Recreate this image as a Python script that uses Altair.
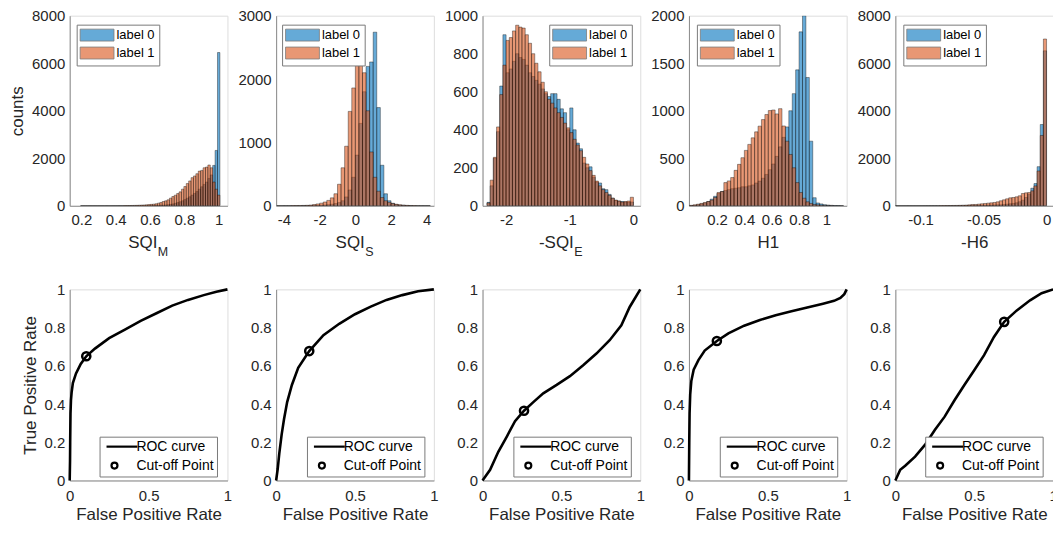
import altair as alt
import pandas as pd

FONT = "Liberation Sans"
TXT = "#262626"
AXC = "#8c8c8c"
BLUE = "#0072BD"
ORANGE = "#D95319"
W = 158.5
H_TOP, H_BOT = 191, 192
MINUS = "\u2212"

# ---------------- histogram data ----------------
# SQI_M : bins of width 0.014, listed from the right-most bin (ending at 1.007) leftwards
p1_width = 0.014
p1_right = 1.007
p1_label0_rtl = [6450, 2330, 1700, 1300, 1150, 1000, 900, 800, 700, 600, 520, 450, 380, 320, 260,
                 210, 170, 135, 105, 80, 60, 45, 35, 28, 22, 17, 13, 10, 8, 6, 5, 4, 3, 3, 2, 2,
                 1, 1, 1, 1, 0, 0, 0, 0, 0, 0, 0, 0, 0, 0, 0, 0, 0, 0, 0, 0, 0, 0]
p1_label1_rtl = [450, 700, 1000, 1600, 1717, 1630, 1600, 1490, 1460, 1350, 1256, 1185, 1047, 935, 810,
                 700, 586, 515, 447, 390, 322, 251, 209, 181, 140, 112, 84, 70, 60, 50, 42, 35, 30,
                 25, 20, 17, 14, 12, 10, 8, 6, 5, 4, 3, 2, 2, 1, 1, 1, 1, 1, 0, 0, 1, 0, 0, 0, 0]

# SQI_S : bins of width 0.2 starting at -4.4
p2_width = 0.2
p2_first = -4.4
p2_label0 = [1, 1, 1, 1, 2, 2, 2, 3, 3, 4, 5, 6, 9, 12, 18, 25, 35, 50, 80, 140, 250, 450, 800,
             1300, 1800, 2200, 2270, 2740, 1550, 640, 190, 80, 40, 20, 12, 8, 5, 3, 2, 2, 1, 1, 1]
p2_label1 = [1, 1, 2, 2, 3, 4, 5, 6, 8, 12, 20, 30, 42, 60, 85, 125, 190, 340, 600, 940, 1490, 1860,
             2450, 2600, 2100, 1500, 850, 450, 230, 130, 80, 55, 35, 25, 15, 10, 7, 5, 3, 2, 2, 1, 1]

# -SQI_E : bins of width 0.05 starting at -2.3
p3_width = 0.05
p3_first = -2.3
p3_label0 = [18, 105, 250, 390, 630, 900, 700, 720, 760, 800, 780, 770, 740, 700, 680, 660, 640,
             615, 590, 575, 590, 590, 560, 510, 490, 400, 515, 400, 330, 300, 225, 200, 205, 150,
             125, 120, 90, 85, 60, 40, 28, 25, 22, 20, 18, 20]
p3_label1 = [15, 135, 255, 415, 585, 740, 870, 885, 920, 950, 940, 935, 900, 855, 800, 750, 705,
             650, 600, 560, 540, 515, 490, 465, 435, 410, 385, 350, 320, 290, 255, 220, 185, 160,
             130, 105, 85, 70, 55, 40, 30, 25, 20, 22, 25, 45]

# H1 : bins of width 0.025 starting at 0
p4_width = 0.025
p4_first = 0.0
p4_label0 = [2, 5, 10, 20, 30, 45, 70, 100, 130, 150, 160, 170, 180, 185, 190, 200, 200, 210, 220,
             240, 260, 290, 330, 380, 440, 520, 620, 720, 830, 1000, 1180, 1430, 1830, 2000, 1350,
             680, 85, 30, 20, 12, 8, 5, 3, 2, 1]
p4_label1 = [5, 10, 17, 25, 35, 45, 60, 87, 140, 150, 244, 262, 297, 373, 436, 506, 583, 646, 715,
             778, 838, 907, 960, 1002, 1008, 967, 1022, 840, 680, 540, 400, 244, 140, 80, 42, 25,
             14, 10, 6, 4, 3, 2, 1, 1, 0]

# -H6 : bins of width 0.0025, listed from the right-most bin (ending at 0) leftwards
p5_width = 0.0025
p5_right = 0.0
p5_label0_rtl = [6520, 3420, 1647, 935, 740, 490, 350, 237, 170, 125, 100, 84, 70, 56, 42, 40, 35,
                 30, 25, 22, 20, 18, 15, 12, 10, 10, 8, 7, 6, 6, 5, 5, 4, 4, 3, 3, 3, 2, 2, 2, 2,
                 1, 1, 1, 1, 1, 1, 1]
p5_label1_rtl = [7020, 2960, 1466, 838, 628, 558, 545, 516, 420, 377, 349, 335, 293, 251, 210, 167,
                 140, 125, 112, 98, 84, 70, 56, 55, 40, 30, 25, 20, 16, 14, 12, 10, 8, 7, 6, 5, 4,
                 4, 3, 3, 2, 2, 2, 1, 1, 1, 1, 1]

# ---------------- ROC data ----------------
roc1_fpr = [0, 0.002, 0.003, 0.005, 0.008, 0.012, 0.02, 0.04, 0.07, 0.105, 0.16, 0.25, 0.35, 0.45,
            0.55, 0.65, 0.75, 0.85, 0.93, 1.0]
roc1_tpr = [0, 0.1, 0.2, 0.35, 0.42, 0.46, 0.51, 0.56, 0.61, 0.65, 0.69, 0.745, 0.79, 0.835, 0.875,
            0.915, 0.945, 0.97, 0.988, 1.0]
roc2_fpr = [0, 0.01, 0.02, 0.035, 0.05, 0.07, 0.1, 0.14, 0.21, 0.3, 0.4, 0.5, 0.6, 0.7, 0.8, 0.9, 1.0]
roc2_tpr = [0, 0.06, 0.14, 0.24, 0.32, 0.41, 0.5, 0.59, 0.677, 0.76, 0.82, 0.87, 0.91, 0.945, 0.97,
            0.99, 1.0]
roc3_fpr = [0, 0.048, 0.1, 0.154, 0.206, 0.263, 0.322, 0.385, 0.47, 0.554, 0.638, 0.722, 0.806,
            0.88, 0.933, 1.0]
roc3_tpr = [0, 0.056, 0.15, 0.23, 0.31, 0.365, 0.41, 0.456, 0.5, 0.546, 0.603, 0.664, 0.734, 0.812,
            0.908, 1.0]
roc4_fpr = [0, 0.002, 0.004, 0.008, 0.015, 0.03, 0.06, 0.1, 0.177, 0.25, 0.35, 0.45, 0.55, 0.65,
            0.75, 0.85, 0.92, 0.96, 0.985, 1.0]
roc4_tpr = [0, 0.2, 0.35, 0.45, 0.52, 0.58, 0.63, 0.68, 0.73, 0.77, 0.81, 0.84, 0.865, 0.885, 0.905,
            0.925, 0.94, 0.955, 0.975, 1.0]
roc5_fpr = [0, 0.031, 0.0625, 0.125, 0.1875, 0.25, 0.3125, 0.375, 0.4375, 0.5, 0.5625, 0.625,
            0.69, 0.77, 0.854, 0.927, 1.0]
roc5_tpr = [0, 0.056, 0.077, 0.125, 0.186, 0.264, 0.334, 0.42, 0.5, 0.577, 0.656, 0.751, 0.83,
            0.89, 0.943, 0.98, 1.0]
cutoffs = [(0.105, 0.65), (0.21, 0.677), (0.263, 0.365), (0.177, 0.73), (0.69, 0.83)]

LABEL_EXPR = "replace(format(datum.value, '~g'), '" + MINUS + "', '-')"


def axis_common(**kw):
    base = dict(grid=False, ticks=False, tickSize=0, domainColor=AXC, domainWidth=1,
                labelFont=FONT, labelFontSize=15, labelColor=TXT, labelFlush=False,
                labelOverlap=False, labelExpr=LABEL_EXPR, titleFont=FONT, titleFontSize=17,
                titleFontWeight="normal", titleColor=TXT)
    base.update(kw)
    return alt.Axis(**base)


def hist_panel(starts, width, c0, c1, xdom, xticks, ydom, yticks, xtitle, sub, ytitle, lx, ly):
    rows = [{"start": s, "end": s + width, "count": v, "label": "label 0"} for s, v in zip(starts, c0)]
    rows += [{"start": s, "end": s + width, "count": v, "label": "label 1"} for s, v in zip(starts, c1)]
    df = pd.DataFrame(rows)
    if sub:
        xaxis = axis_common(values=xticks, title=None, labelPadding=7)
    else:
        xaxis = axis_common(values=xticks, title=xtitle, labelPadding=7, titlePadding=7)
    yaxis = axis_common(values=yticks, title=ytitle, labelPadding=5, titlePadding=5)
    bars = alt.Chart(df).mark_bar(fillOpacity=0.6, stroke="#000000", strokeWidth=0.5,
                                  strokeOpacity=0.75, clip=True).encode(
        x=alt.X("start:Q", scale=alt.Scale(domain=xdom, nice=False, zero=False), axis=xaxis),
        x2="end:Q",
        y=alt.Y("count:Q", scale=alt.Scale(domain=ydom, nice=False), axis=yaxis),
        y2=alt.datum(0),
        color=alt.Color("label:N",
                        scale=alt.Scale(domain=["label 0", "label 1"], range=[BLUE, ORANGE]),
                        legend=alt.Legend(title=None, orient="none", legendX=lx, legendY=ly,
                                          fillColor="white", strokeColor="#7a7a7a", padding=4,
                                          rowPadding=1, symbolType="M-1.17,-1H4.5V1H-1.17Z",
                                          symbolSize=144, symbolStrokeColor="#262626",
                                          symbolStrokeWidth=0.8, symbolOpacity=0.6,
                                          labelOffset=23, labelFont=FONT, labelFontSize=13,
                                          labelColor="#000000")),
    )
    layers = [bars]
    if sub:
        shift = {"M": 8.8, "S": 9.8, "E": 12.4}[sub]
        main = alt.Chart(pd.DataFrame({"t": [xtitle]})).mark_text(
            align="right", baseline="middle", font=FONT, fontSize=17, color=TXT).encode(
            x=alt.value(W / 2 + shift), y=alt.value(H_TOP + 37.5), text="t:N")
        subt = alt.Chart(pd.DataFrame({"t": [sub]})).mark_text(
            align="left", baseline="middle", font=FONT, fontSize=12.5, color=TXT).encode(
            x=alt.value(W / 2 + shift + 0.5), y=alt.value(H_TOP + 46), text="t:N")
        layers += [main, subt]
    return alt.layer(*layers).properties(width=W, height=H_TOP)


def roc_panel(fpr, tpr, cut, ytitle, lx, ly):
    df = pd.DataFrame({"fpr": fpr, "tpr": tpr, "i": list(range(len(fpr)))})
    xaxis = axis_common(values=[0, 0.5, 1], title="False Positive Rate", labelPadding=8, titlePadding=3)
    yaxis = axis_common(values=[0, 0.2, 0.4, 0.6, 0.8, 1], title=ytitle, labelPadding=5, titlePadding=5)
    x = alt.X("fpr:Q", scale=alt.Scale(domain=[0, 1], nice=False), axis=xaxis)
    y = alt.Y("tpr:Q", scale=alt.Scale(domain=[0, 1], nice=False), axis=yaxis)
    line = alt.Chart(df).mark_line(color="black", strokeWidth=2.6).encode(x=x, y=y, order="i:Q")
    cdf = pd.DataFrame({"fpr": [cut[0]], "tpr": [cut[1]]})
    pt = alt.Chart(cdf).mark_point(shape="circle", filled=False, color="black", strokeWidth=2.5,
                                   size=67, opacity=1).encode(x=x, y=y)
    ldf = pd.DataFrame({"item": ["ROC curve", "Cut-off Point"]})
    leg = alt.Chart(ldf).mark_point(filled=False, color="black", opacity=0).encode(
        x=alt.value(0), y=alt.value(0),
        shape=alt.Shape("item:N",
                        scale=alt.Scale(domain=["ROC curve", "Cut-off Point"],
                                        range=["M-2.67,0H7.67", "circle"]),
                        legend=alt.Legend(title=None, orient="none", legendX=lx, legendY=ly,
                                          fillColor="white", strokeColor="#7a7a7a", padding=3,
                                          rowPadding=4, symbolSize=36, symbolStrokeWidth=2.2,
                                          symbolStrokeColor="black", symbolFillColor="transparent",
                                          symbolOpacity=1, symbolOffset=5, labelOffset=15,
                                          labelFont=FONT, labelFontSize=14, labelColor="#000000")),
    )
    return alt.layer(line, pt, leg).properties(width=W, height=H_BOT)


p1_n = len(p1_label0_rtl)
p1_starts = [p1_right - p1_width * (k + 1) for k in range(p1_n)][::-1]
p2_starts = [p2_first + p2_width * i for i in range(len(p2_label0))]
p3_starts = [p3_first + p3_width * i for i in range(len(p3_label0))]
p4_starts = [p4_first + p4_width * i for i in range(len(p4_label0))]
p5_n = len(p5_label0_rtl)
p5_starts = [p5_right - p5_width * (k + 1) for k in range(p5_n)][::-1]

tops = [
    hist_panel(p1_starts, p1_width, p1_label0_rtl[::-1], p1_label1_rtl[::-1], [0.132, 1.051],
               [0.2, 0.4, 0.6, 0.8, 1], [0, 8000], [0, 2000, 4000, 6000, 8000], "SQI", "M",
               "counts", 7, 9),
    hist_panel(p2_starts, p2_width, p2_label0, p2_label1, [-4.44, 4.4], [-4, -2, 0, 2, 4],
               [0, 3000], [0, 1000, 2000, 3000], "SQI", "S", None, 6, 9),
    hist_panel(p3_starts, p3_width, p3_label0, p3_label1, [-2.37, 0.107], [-2, -1, 0],
               [0, 1000], [0, 200, 400, 600, 800, 1000], "-SQI", "E", None, 67, 9),
    hist_panel(p4_starts, p4_width, p4_label0, p4_label1, [-0.005, 1.148], [0.2, 0.4, 0.6, 0.8, 1],
               [0, 2000], [0, 500, 1000, 1500, 2000], "H1", None, None, 8, 9),
    hist_panel(p5_starts, p5_width, p5_label0_rtl[::-1], p5_label1_rtl[::-1], [-0.12, 0.0052],
               [-0.1, -0.05, 0], [0, 8000], [0, 2000, 4000, 6000, 8000], "-H6", None, None, 8, 9),
]
rocs = [
    roc_panel(roc1_fpr, roc1_tpr, cutoffs[0], "True Positive Rate", 30, 148),
    roc_panel(roc2_fpr, roc2_tpr, cutoffs[1], None, 31, 148),
    roc_panel(roc3_fpr, roc3_tpr, cutoffs[2], None, 31, 148),
    roc_panel(roc4_fpr, roc4_tpr, cutoffs[3], None, 31, 148),
    roc_panel(roc5_fpr, roc5_tpr, cutoffs[4], None, 30, 148),
]

chart = alt.concat(*tops, *rocs, columns=5, spacing={"row": 84, "column": 48.4},
                   bounds="flush").resolve_scale(
    x="independent", y="independent", color="independent", shape="independent"
).properties(
    padding={"left": 0, "top": -1.5, "right": -6, "bottom": 0}
).configure_view(stroke=None).configure(font=FONT)

chart.save("out.html", embed_options={"renderer": "svg", "actions": False})
